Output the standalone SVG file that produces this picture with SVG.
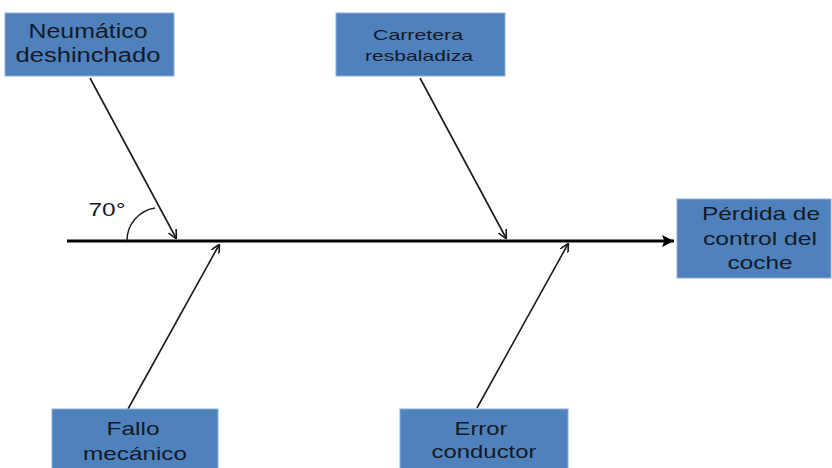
<svg xmlns="http://www.w3.org/2000/svg" width="832" height="468" viewBox="0 0 832 468">
<style>
.box{fill:#4F81BD;stroke:#8fb0d8;stroke-width:1}
.t{font-family:"Liberation Sans",Arial,sans-serif;fill:#141a26;text-anchor:middle}
.br{stroke:#1a1a1a;stroke-width:1.6;fill:none;marker-end:url(#v)}
</style>
<defs>
<marker id="v" viewBox="0 0 10 10" refX="9" refY="5" markerWidth="9" markerHeight="9" markerUnits="userSpaceOnUse" orient="auto">
<path d="M0,0 L10,5 L0,10" fill="none" stroke="#1a1a1a" stroke-width="1.8"/>
</marker>
<marker id="m" viewBox="0 0 10 10" refX="10" refY="5" markerWidth="14" markerHeight="12" markerUnits="userSpaceOnUse" orient="auto">
<path d="M0,0 L10,5 L0,10 L2,5 Z" fill="#000"/>
</marker>
</defs>
<g id="connectors">
<line x1="67" y1="241" x2="674" y2="241" stroke="#000" stroke-width="3" marker-end="url(#m)"/>
<line class="br" x1="90" y1="78" x2="176" y2="238"/>
<line class="br" x1="420" y1="78" x2="506" y2="238"/>
<line class="br" x1="128" y1="409" x2="219" y2="245"/>
<line class="br" x1="477" y1="408" x2="568" y2="244"/>
<path d="M127,241 A33,33 0 0 1 155,208" fill="none" stroke="#1a1a1a" stroke-width="1.4"/>
<text class="t" x="107" y="216" font-size="18" textLength="37" lengthAdjust="spacingAndGlyphs">70°</text>
</g>
<g id="neumatico">
<rect class="box" x="5" y="13" width="169" height="63"/>
<text class="t" x="88" y="38" font-size="20" textLength="119" lengthAdjust="spacingAndGlyphs">Neumático</text>
<text class="t" x="88" y="62" font-size="20" textLength="145" lengthAdjust="spacingAndGlyphs">deshinchado</text>
</g>
<g id="carretera">
<rect class="box" x="336" y="13" width="169" height="63"/>
<text class="t" x="418" y="40" font-size="15" textLength="90" lengthAdjust="spacingAndGlyphs">Carretera</text>
<text class="t" x="419" y="61" font-size="15" textLength="108" lengthAdjust="spacingAndGlyphs">resbaladiza</text>
</g>
<g id="perdida">
<rect class="box" x="677" y="199" width="154" height="79"/>
<text class="t" x="761" y="220" font-size="19" textLength="118" lengthAdjust="spacingAndGlyphs">Pérdida de</text>
<text class="t" x="760" y="245" font-size="19" textLength="114" lengthAdjust="spacingAndGlyphs">control del</text>
<text class="t" x="760" y="269" font-size="19" textLength="65" lengthAdjust="spacingAndGlyphs">coche</text>
</g>
<g id="fallo">
<rect class="box" x="52" y="409" width="166" height="70"/>
<text class="t" x="133" y="435" font-size="19" textLength="53" lengthAdjust="spacingAndGlyphs">Fallo</text>
<text class="t" x="135" y="460" font-size="19" textLength="104" lengthAdjust="spacingAndGlyphs">mecánico</text>
</g>
<g id="error">
<rect class="box" x="400" y="409" width="168" height="70"/>
<text class="t" x="481" y="435" font-size="19" textLength="53" lengthAdjust="spacingAndGlyphs">Error</text>
<text class="t" x="484" y="458" font-size="19" textLength="105" lengthAdjust="spacingAndGlyphs">conductor</text>
</g>
</svg>
